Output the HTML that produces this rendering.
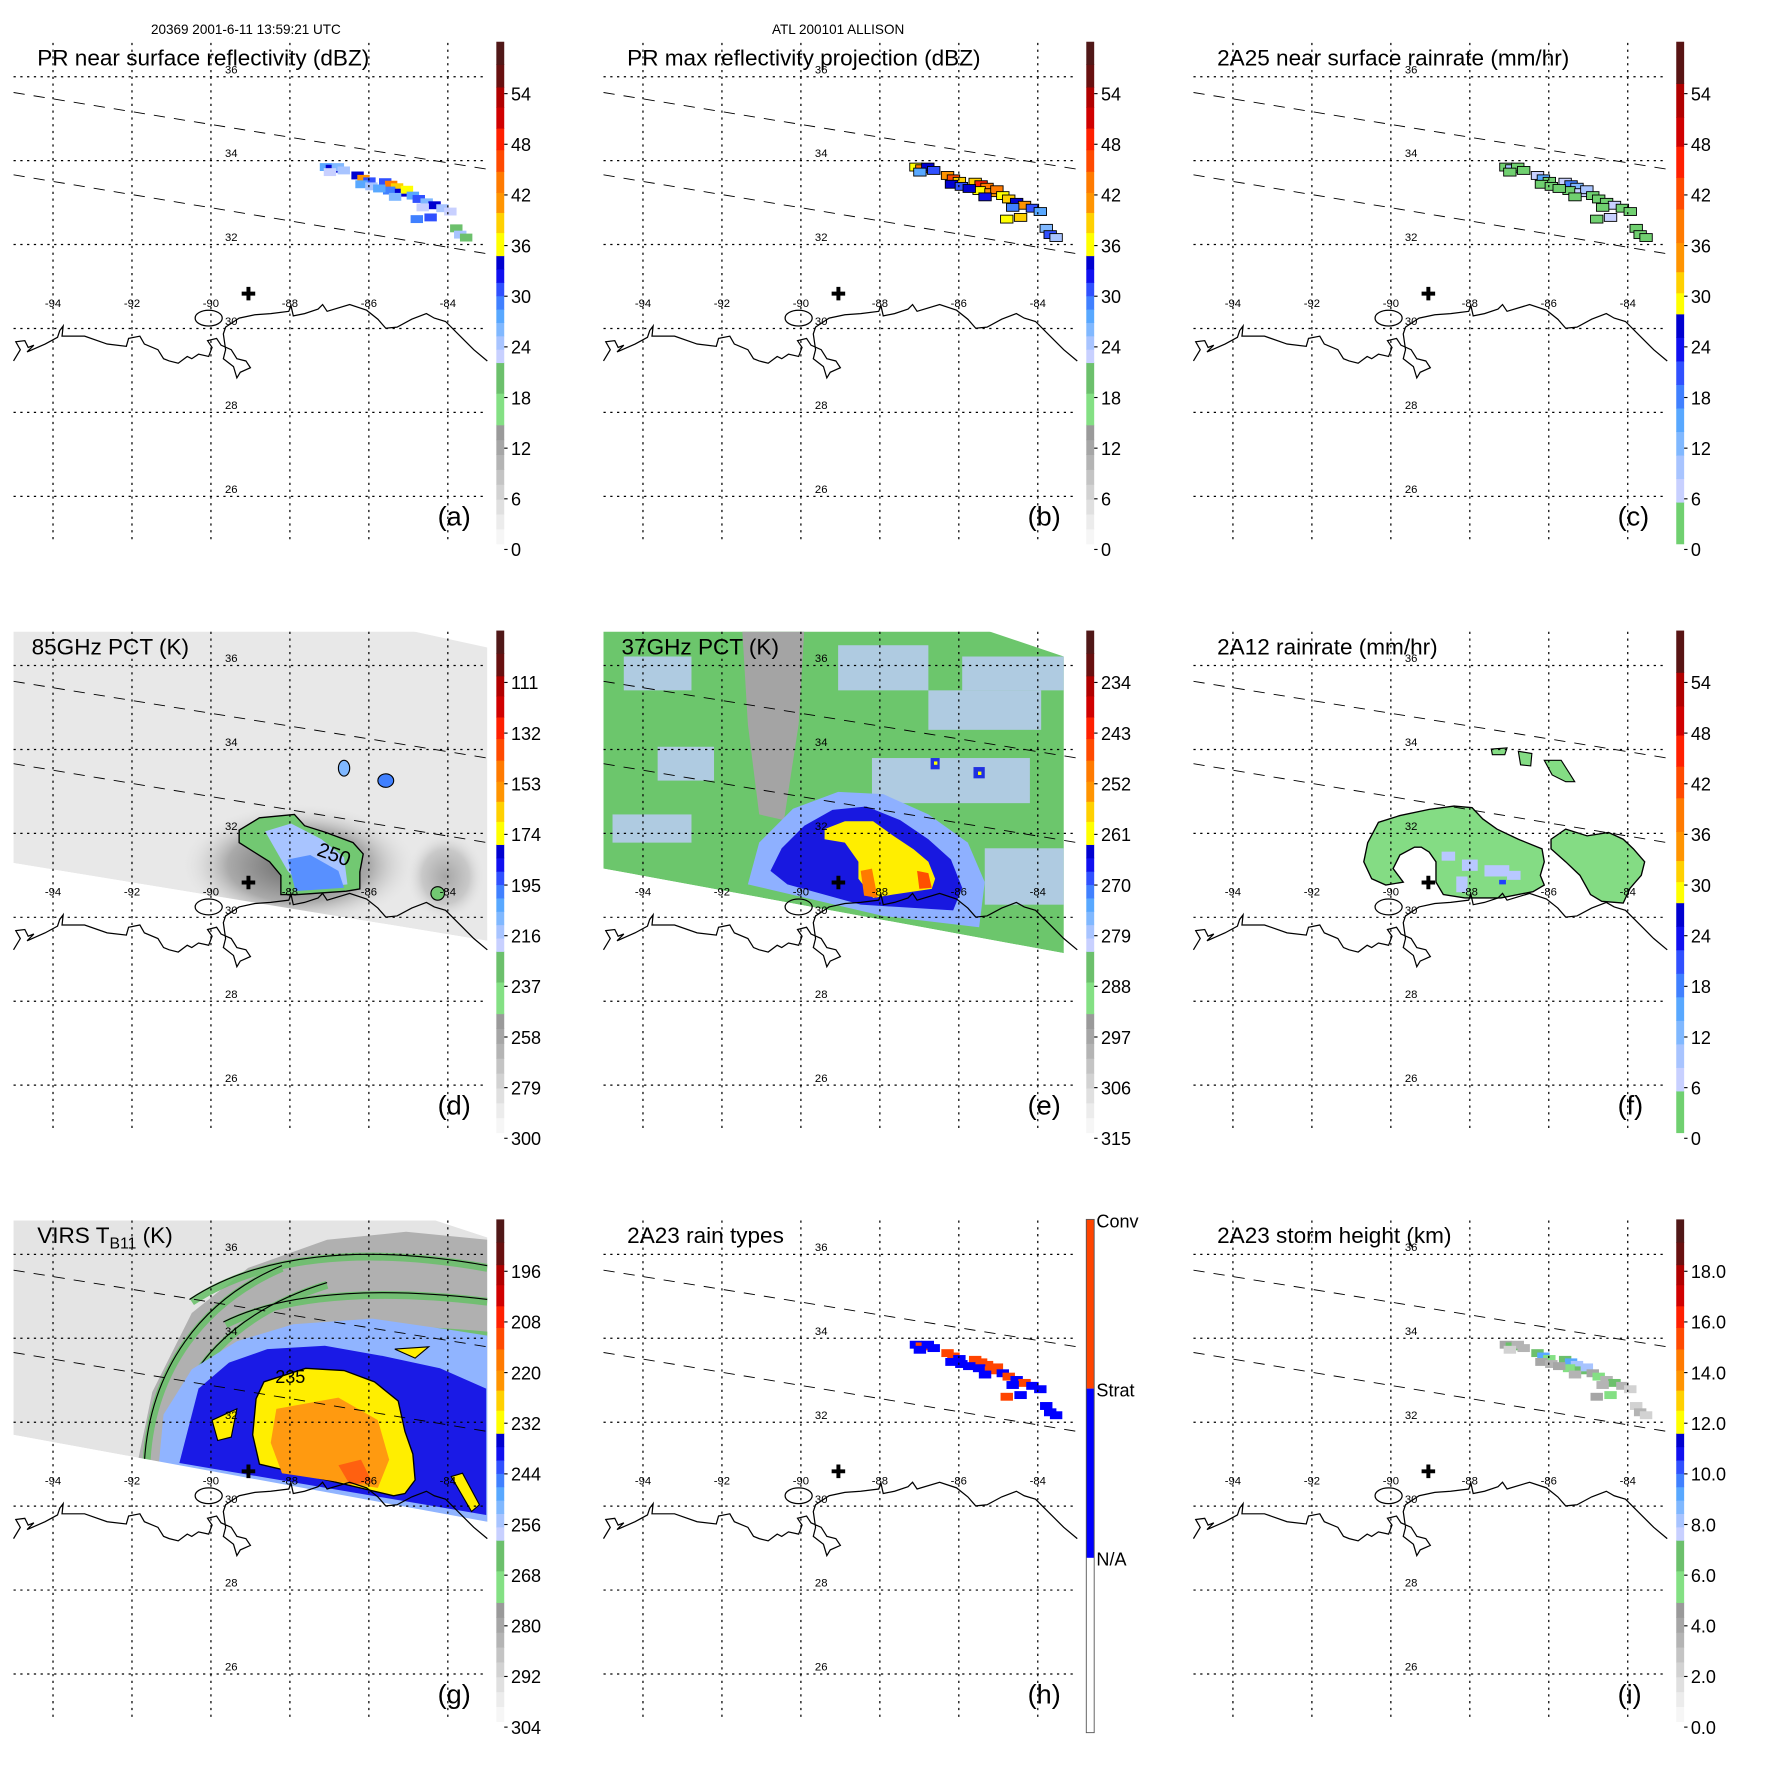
<!DOCTYPE html>
<html><head><meta charset="utf-8"><style>
html,body{margin:0;padding:0;background:#fff;}
svg{display:block;font-family:"Liberation Sans",sans-serif;}
</style></head><body>
<svg id="fig" xmlns="http://www.w3.org/2000/svg" width="1771" height="1771" viewBox="0 0 1570 1570">
<text x="218" y="30" font-size="12" text-anchor="middle">20369 2001-6-11 13:59:21 UTC</text>
<text x="743" y="30" font-size="12" text-anchor="middle">ATL 200101 ALLISON</text>
</svg>
<script>
// ---- data arrays ----
const cellLon=[-87.10,-86.95,-86.80,-86.65,-87.00,-86.30,-86.15,-86.00,-86.20,-85.95,-85.60,-85.45,-85.30,-85.50,-85.20,-85.05,-84.90,-85.35,-84.75,-84.55,-84.35,-84.15,-83.95,-84.80,-84.45,-83.80,-83.70,-83.55,-85.75,-84.65];
const cellLat=[33.86,33.82,33.86,33.78,33.74,33.66,33.58,33.52,33.45,33.40,33.50,33.44,33.38,33.30,33.25,33.32,33.18,33.15,33.10,33.02,32.95,32.88,32.80,32.62,32.66,32.40,32.25,32.18,33.35,32.90];
const valsA=[28,34,26,24,22,33,40,30,27,24,31,42,38,29,33,36,28,25,30,26,33,24,22,29,31,20,24,19,27,23];
const valsB=[36,42,33,30,28,40,46,38,34,30,38,48,44,36,40,44,35,32,38,33,40,30,28,36,38,26,30,24,34,29];
const valsC=[3,8,2,2,1,7,15,4,3,2,5,18,12,4,6,10,3,2,4,2,6,2,1,3,5,1,2,1,3,2];
const valsH=[2,1,2,2,2,1,1,2,2,2,1,1,1,2,1,1,2,2,1,2,1,2,2,1,2,2,2,2,2,2];
const valsI=[4,7,3,3,2,7,9,5,4,3,6,9,8,5,7,8,4,3,5,3,6,3,2,4,5,2,3,2,4,3];
const lonTicks=[-94,-92,-90,-88,-86,-84];
const latTicks=[36,34,32,30,28,26];
const labA=["54","48","42","36","30","24","18","12","6","0"];
const labC=["54","48","42","36","30","24","18","12","6","0"];
const labD=["111","132","153","174","195","216","237","258","279","300"];
const labE=["234","243","252","261","270","279","288","297","306","315"];
const labG=["196","208","220","232","244","256","268","280","292","304"];
const labI=["18.0","16.0","14.0","12.0","10.0","8.0","6.0","4.0","2.0","0.0"];
const stormLon=[-89.05], stormLat=[30.83];

const NS="http://www.w3.org/2000/svg";
const fig=document.getElementById('fig');
function mk(tag,attrs,parent){const e=document.createElementNS(NS,tag);for(const k in attrs)e.setAttribute(k,attrs[k]);(parent||fig).appendChild(e);return e;}
const X=lon=>12+(lon+95)*35;
const Y=lat=>68+(36-lat)*37.2;
const P=pts=>pts.map(p=>p.join(',')).join(' ');

function reflSegs(){const s=[];const grays=['#f6f6f6','#ececec','#e0e0e0','#d2d2d2','#c4c4c4','#b4b4b4','#a6a6a6','#9a9a9a'];
 grays.forEach((c,i)=>s.push([i*0.237/8,(i+1)*0.237/8,c]));
 s.push([.237,.30,'#84e084'],[.30,.361,'#6cc06c']);
 const bl=['#c8d0ff','#a8c4ff','#80b8ff','#58a8ff','#4080ff','#3050ff','#1010f0','#0000d0'];
 bl.forEach((c,i)=>s.push([.361+i*.213/8,.361+(i+1)*.213/8,c]));
 s.push([.574,.62,'#ffff00'],[.62,.66,'#ffd000'],[.66,.70,'#ff9400'],[.70,.742,'#ff7a00'],[.742,.785,'#ff4a00'],[.785,.828,'#ff2000'],[.828,.87,'#d00000'],[.87,.91,'#b00000'],[.91,.955,'#681010'],[.955,1,'#501818']);return s;}
function rainSegs(){const s=[[0,.083,'#70d070']];
 const bl=['#c8d0ff','#a8c4ff','#80b8ff','#58a8ff','#4080ff','#3050ff','#1010f0','#0000d0'];
 bl.forEach((c,i)=>s.push([.083+i*.375/8,.083+(i+1)*.375/8,c]));
 s.push([.458,.50,'#ffff00'],[.50,.542,'#ffd000'],[.542,.60,'#ff9400'],[.60,.667,'#ff7a00'],[.667,.73,'#ff4a00'],[.73,.792,'#ff2000'],[.792,.85,'#d00000'],[.85,.917,'#b00000'],[.917,1,'#581414']);return s;}
function colorOf(segs,f){f=Math.max(0,Math.min(0.999,f));for(const s of segs)if(f>=s[0]&&f<s[1])return s[2];return segs[segs.length-1][2];}
const RS=reflSegs(), RN=rainSegs();

const panels=[
 {id:'a',dx:0,dy:0,title:'PR near surface reflectivity (dBZ)',lab:labA,segs:RS,vals:valsA,vmax:60,tx:33},
 {id:'b',dx:523,dy:0,title:'PR max reflectivity projection (dBZ)',lab:labA,segs:RS,vals:valsB,vmax:60,tx:33,contour:true},
 {id:'c',dx:1046,dy:0,title:'2A25 near surface rainrate (mm/hr)',lab:labC,segs:RN,vals:valsC,vmax:60,tx:33,contour:true},
 {id:'d',dx:0,dy:522,title:'85GHz PCT (K)',lab:labD,segs:RS,tx:28},
 {id:'e',dx:523,dy:522,title:'37GHz PCT (K)',lab:labE,segs:RS,tx:28},
 {id:'f',dx:1046,dy:522,title:'2A12 rainrate (mm/hr)',lab:labC,segs:RN,tx:33},
 {id:'g',dx:0,dy:1044,title:'VIRS',lab:labG,segs:RS,tx:33},
 {id:'h',dx:523,dy:1044,title:'2A23 rain types',lab:null,vals:valsH,tx:33},
 {id:'i',dx:1046,dy:1044,title:'2A23 storm height (km)',lab:labI,segs:RS,vals:valsI,vmax:20,tx:33}
];
const coast=[[12,320],[18,310],[14,303],[22,302],[25,308],[30,306],[24,312],[40,305],[51,299],[53,293],[56,289],[55,298],[75,298],[95,305],[112,307],[114,300],[124,298],[128,305],[140,310],[145,318],[150,320],[158,322],[166,316],[170,318],[176,314],[185,316],[188,308],[184,302],[192,300],[196,306],[205,310],[210,318],[218,320],[222,326],[213,330],[210,335],[207,325],[198,318],[200,310],[198,296],[200,290],[212,282],[226,279],[240,278],[256,276],[258,271],[260,280],[270,278],[282,274],[286,270],[290,276],[310,270],[325,275],[335,283],[342,291],[352,290],[365,283],[378,278],[385,282],[395,285],[410,300],[420,310],[432,320]];

panels.forEach(p=>{
 const g=mk('g',{transform:`translate(${p.dx},${p.dy})`});
 
 
 const cp=mk('clipPath',{id:'clip'+p.id},g);mk('rect',{x:12,y:38,width:420,height:444},cp);
 const m=mk('g',{'clip-path':`url(#clip${p.id})`},g);
 
 
 if(p.id==='d'){
  mk('polygon',{points:'12,30 331,30 432,52 432,312 12,243',fill:'#e8e8e8'},m);
  const rg=mk('radialGradient',{id:'halo'},g);mk('stop',{offset:'0','stop-color':'#666'},rg);mk('stop',{offset:'0.6','stop-color':'#aaa'},rg);mk('stop',{offset:'1','stop-color':'#e8e8e8','stop-opacity':'0'},rg);
  mk('ellipse',{cx:265,cy:245,rx:105,ry:55,fill:'url(#halo)'},m);
  mk('ellipse',{cx:395,cy:255,rx:35,ry:40,fill:'url(#halo)',opacity:.5},m);
  mk('polygon',{points:'12,243 432,312 432,340 12,340',fill:'#fff'},m);
  mk('polygon',{points:'212,214 230,203 261,200 270,210 289,216 313,225 322,235 319,251 319,266 307,268 264,271 249,271 249,254 239,242 212,225',fill:'#72c872',stroke:'#000','stroke-width':1.2},m);
  mk('polygon',{points:'235,215 258,208 285,222 305,238 308,262 270,266 255,250',fill:'#a8c4ff'},m);
  mk('polygon',{points:'255,240 275,236 300,250 305,265 262,268',fill:'#5890ff'},m);
  mk('ellipse',{cx:305,cy:159,rx:5,ry:7,fill:'#80b8ff',stroke:'#000'},m);
  mk('ellipse',{cx:342,cy:170,rx:7,ry:6,fill:'#4080ff',stroke:'#000'},m);
  mk('ellipse',{cx:388,cy:270,rx:6,ry:6,fill:'#72c872',stroke:'#000'},m);
  mk('text',{x:280,y:236,'font-size':18,transform:'rotate(20 280 236)'},m).textContent='250';
 }
 if(p.id==='e'){
  mk('polygon',{points:'12,30 331,30 420,60 420,323 12,248',fill:'#6cc66c'},m);
  [[30,60,60,30],[220,50,80,40],[300,90,100,35],[60,140,50,30],[250,150,140,40],[20,200,70,25],[330,60,90,30],[350,230,70,50]].forEach(r=>mk('rect',{x:r[0],y:r[1],width:r[2],height:r[3],fill:'#c0ccff',opacity:.8},m));
  mk('polygon',{points:'135,36 190,36 185,120 172,205 150,200 140,120',fill:'#a4a4a4'},m);
  mk('polygon',{points:'140,262 150,225 180,195 220,180 260,182 300,200 335,225 350,260 345,300 260,290',fill:'#8eb0ff'},m);
  mk('polygon',{points:'160,250 170,230 190,210 215,196 245,193 275,205 300,222 320,240 330,265 322,285 240,280 175,262',fill:'#1818e0'},m);
  mk('polygon',{points:'208,213 226,206 251,206 269,219 287,231 300,242 306,257 303,266 269,271 251,274 238,257 238,242 226,225 208,222',fill:'#ffee00'},m);
  mk('polygon',{points:'240,250 250,248 255,274 243,272',fill:'#ff7a00'},m);
  mk('polygon',{points:'290,250 300,252 303,265 292,266',fill:'#ff5000'},m);
  mk('rect',{x:302,y:150,width:8,height:10,fill:'#2030e0'},m);mk('rect',{x:340,y:158,width:10,height:10,fill:'#2030e0'},m);
  mk('rect',{x:305,y:153,width:3,height:3,fill:'#ff0'},m);mk('rect',{x:344,y:162,width:3,height:3,fill:'#ff0'},m);
  mk('polygon',{points:'12,248 420,323 420,340 12,340',fill:'#fff'},m);
 }
 if(p.id==='f'){
  const main='166.5,225 176,207 195,201 221,195.5 243,192.6 259,194 268.5,204 281,213 300,222 321,230.5 323,242 319.5,254 323,262.6 313,268.5 284.5,274 252.6,274 233.5,271 227,260 227,242 221,233.4 214,229 208,229 195,236 189,248 198,260 182.5,262.6 170,257 163,242';
  mk('polygon',{points:main,fill:'#84dc84',stroke:'#000','stroke-width':1.2},m);
  mk('polygon',{points:'329,222 342,213 361,219 380,216 393,222 402,230.5 412,242 409,254 399,265.5 393,278.6 374,277 364,271 361,265.5 354.6,254 342,242 329,230.5',fill:'#84dc84',stroke:'#000','stroke-width':1.2},m);
  mk('polygon',{points:'300,144 312,146 311,157 302,156',fill:'#84dc84',stroke:'#000'},m);
  mk('polygon',{points:'323,152 338,152 345,163 350,171 342,171 330,165',fill:'#84dc84',stroke:'#000'},m);
  mk('polygon',{points:'276,142 290,141 288,147 277,147',fill:'#84dc84',stroke:'#000'},m);
  [[232,233,12,8],[250,240,14,10],[270,245,22,10],[245,255,10,14],[290,250,12,8]].forEach(r=>mk('rect',{x:r[0],y:r[1],width:r[2],height:r[3],fill:'#b8c8ff'},m));
  mk('rect',{x:283,y:258,width:6,height:4,fill:'#2040ff'},m);
 }
 if(p.id==='g'){
  mk('polygon',{points:'12,20 331,20 432,53 432,305 12,228',fill:'#e4e4e4'},m);
  mk('polygon',{points:'120,262 135,190 170,120 220,80 290,55 360,48 432,55 432,305 120,260',fill:'#b0b0b0'},m);
  mk('path',{d:'M130,250 C135,170 180,110 250,80 M150,240 C160,170 210,120 290,95 M170,110 C230,70 320,60 432,80 M200,130 C260,100 350,100 432,110 M220,150 C300,130 380,135 432,140',stroke:'#6cc06c','stroke-width':7,fill:'none',opacity:.9},m);
  mk('path',{d:'M128,252 C133,170 178,108 250,78 M148,242 C158,168 208,118 290,93 M168,108 C228,68 320,58 432,78 M198,128 C258,98 350,98 432,108',stroke:'#000','stroke-width':1,fill:'none'},m);
  mk('polygon',{points:'140,262 145,210 170,170 210,145 260,130 330,125 400,135 432,140 432,305',fill:'#90b4ff'},m);
  mk('polygon',{points:'159,253 176,187 203,164 237,152 288,149 339,158 390,169 431,187 431,299',fill:'#1a1ae6'},m);
  mk('polygon',{points:'234,181 271,169 305,171 332,181 353,198 359,225 366,245 368,268 359,280 349,282 230,254 224,228 227,196',fill:'#ffee00',stroke:'#000','stroke-width':1.2},m);
  mk('polygon',{points:'245,205 300,195 335,215 345,250 335,275 250,262 240,235',fill:'#ff9a10'},m);
  mk('polygon',{points:'300,255 320,250 330,270 310,272',fill:'#ff6010'},m);
  mk('polygon',{points:'350,152 380,150 368,160',fill:'#ffee00',stroke:'#000'},m);
  mk('polygon',{points:'400,265 410,262 425,290 418,296',fill:'#ffee00',stroke:'#000'},m);
  mk('polygon',{points:'188,215 210,205 205,230 193,233',fill:'#ffee00',stroke:'#000'},m);
  mk('polygon',{points:'12,228 432,305 432,340 12,340',fill:'#fff'},m);
  mk('text',{x:244,y:182,'font-size':16},m).textContent='235';
 }
 if(p.vals){
  p.vals.forEach((v,i)=>{
   let col;
   if(p.id==='h') col = v===1?'#ff4400':'#0000ff';
   else col=colorOf(p.segs,v/p.vmax);
   const r=mk('rect',{x:X(cellLon[i])-5,y:Y(cellLat[i])-3,width:11,height:7,fill:col},m);
   if(p.contour){r.setAttribute('stroke','#000');r.setAttribute('stroke-width','0.8');}
   
   
  });
 }
 lonTicks.forEach(l=>{const e=mk('line',{x1:X(l),y1:38,x2:X(l),y2:482,stroke:'#000','stroke-width':1.1,'stroke-dasharray':'2,4'},g);});
 latTicks.forEach(l=>{const e=mk('line',{x1:12,y1:Y(l),x2:432,y2:Y(l),stroke:'#000','stroke-width':1.1,'stroke-dasharray':'2,4'},g);});
 mk('line',{x1:12,y1:82,x2:432,y2:150,stroke:'#000','stroke-width':0.8,'stroke-dasharray':'10,8'},m);
 mk('line',{x1:12,y1:155,x2:432,y2:225,stroke:'#000','stroke-width':0.8,'stroke-dasharray':'10,8'},m);
 const cl=mk('polyline',{points:P(coast),fill:'none',stroke:'#000','stroke-width':1.1},g);
 
 
 mk('ellipse',{cx:185,cy:282,rx:12,ry:7,fill:'none',stroke:'#000','stroke-width':1.1},g);
 lonTicks.forEach(l=>{const t=mk('text',{x:X(l),y:272,'font-size':10,'text-anchor':'middle'},g);t.textContent=String(l);});
 latTicks.forEach(l=>{const t=mk('text',{x:205,y:Y(l)-3,'font-size':10,'text-anchor':'middle'},g);t.textContent=String(l);});
 const cx=X(stormLon[0]),cy=Y(stormLat[0]);
 const cr=mk('path',{d:`M${cx-6},${cy}H${cx+6}M${cx},${cy-6}V${cy+6}`,stroke:'#000','stroke-width':3.5},g);
 
 
 const tt=mk('text',{x:p.tx,y:58,'font-size':20},g);
 if(p.id==='g'){tt.innerHTML='VIRS T<tspan font-size="14" dy="5">B11</tspan><tspan dy="-5"> (K)</tspan>';}
 else tt.textContent=p.title;
 
 
 const pl=mk('text',{x:388,y:466,'font-size':24},g);pl.textContent='('+p.id+')';
 
 
 const cb=mk('g',{},g);
 
 
 const top=37,bot=482,h=bot-top;
 if(p.id==='h'){
  mk('rect',{x:440,y:top,width:7,height:150,fill:'#ff4400'},cb);
  mk('rect',{x:440,y:top+150,width:7,height:150,fill:'#0000ff'},cb);
  mk('rect',{x:440,y:top,width:7,height:h+10,fill:'none',stroke:'#555','stroke-width':0.8},cb);
  [['Conv',top+7],['Strat',top+157],['N/A',top+307]].forEach(a=>{const t=mk('text',{x:449,y:a[1],'font-size':16},cb);t.textContent=a[0];});
 } else {
  p.segs.forEach(s=>mk('rect',{x:440,y:bot-s[1]*h,width:7,height:(s[1]-s[0])*h+0.5,fill:s[2]},cb));
  p.lab.forEach((lb,i)=>{const y=83+i*44.9-37+top;const t=mk('text',{x:453,y:y+6,'font-size':16},cb);t.textContent=lb;mk('line',{x1:447,y1:y,x2:450,y2:y,stroke:'#000'},cb);});
 }
});
</script>
</body></html>
